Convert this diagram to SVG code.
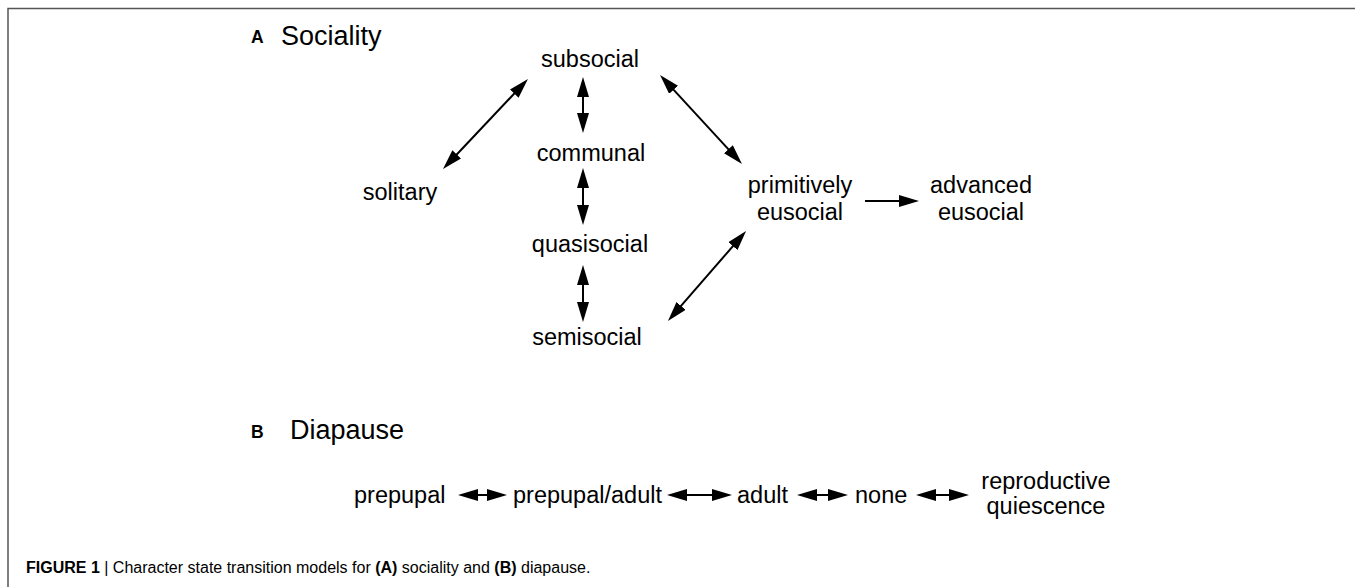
<svg xmlns="http://www.w3.org/2000/svg" width="1355" height="587" viewBox="0 0 1355 587">
<defs>
<style>
text{font-family:"Liberation Sans",Arial,sans-serif;fill:#000}
.lbl{font-size:23.5px;text-anchor:middle}
.row{font-size:23.5px}
.head{font-size:27px}
.tag{font-size:17.5px;font-weight:bold}
.cap{font-size:16px}
.con line{stroke:#000;stroke-width:2}
</style>
<marker id="ah" markerUnits="userSpaceOnUse" markerWidth="20" markerHeight="12" refX="10" refY="6" orient="auto-start-reverse">
<path d="M0,0 L20,6 L0,12 Z" fill="#000"/>
</marker>
</defs>
<rect width="1355" height="587" fill="#fff"/>
<path d="M8,587 V8.5 H1355" fill="none" stroke="#555" stroke-width="1.5"/>

<g id="titleA"><text class="tag" x="251" y="43">A</text><text class="head" x="281" y="45">Sociality</text></g>
<g id="subsocial"><text class="lbl" x="590" y="67">subsocial</text></g>
<g id="solitary"><text class="lbl" x="400" y="200">solitary</text></g>
<g id="communal"><text class="lbl" x="591" y="161">communal</text></g>
<g id="quasisocial"><text class="lbl" x="590" y="252">quasisocial</text></g>
<g id="semisocial"><text class="lbl" x="587" y="345">semisocial</text></g>
<g id="primitively"><text class="lbl" x="800" y="193">primitively</text><text class="lbl" x="800" y="220">eusocial</text></g>
<g id="advanced"><text class="lbl" x="981" y="193">advanced</text><text class="lbl" x="981" y="220">eusocial</text></g>

<g id="titleB"><text class="tag" x="251" y="438">B</text><text class="head" x="290" y="439">Diapause</text></g>
<g id="prepupal"><text class="row" x="354" y="503">prepupal</text></g>
<g id="prepupal-adult"><text class="row" x="513" y="503">prepupal/adult</text></g>
<g id="adult"><text class="row" x="737" y="503">adult</text></g>
<g id="none"><text class="row" x="855" y="503">none</text></g>
<g id="reproductive"><text class="lbl" x="1046" y="489">reproductive</text><text class="lbl" x="1046" y="514">quiescence</text></g>

<g id="connectors" class="con">
<line x1="449.9" y1="161.7" x2="521.1" y2="86.3" marker-start="url(#ah)" marker-end="url(#ah)"/>
<line x1="583" y1="87" x2="583" y2="123" marker-start="url(#ah)" marker-end="url(#ah)"/>
<line x1="583" y1="178" x2="583" y2="215" marker-start="url(#ah)" marker-end="url(#ah)"/>
<line x1="583" y1="275" x2="583" y2="312" marker-start="url(#ah)" marker-end="url(#ah)"/>
<line x1="666.8" y1="82.4" x2="735.2" y2="156.6" marker-start="url(#ah)" marker-end="url(#ah)"/>
<line x1="674.5" y1="313.4" x2="739.5" y2="238.6" marker-start="url(#ah)" marker-end="url(#ah)"/>
<line x1="865" y1="201" x2="909" y2="201" marker-end="url(#ah)"/>
<line x1="468" y1="495" x2="497" y2="495" marker-start="url(#ah)" marker-end="url(#ah)"/>
<line x1="677" y1="495" x2="722" y2="495" marker-start="url(#ah)" marker-end="url(#ah)"/>
<line x1="807" y1="495" x2="838" y2="495" marker-start="url(#ah)" marker-end="url(#ah)"/>
<line x1="926" y1="495" x2="959" y2="495" marker-end="url(#ah)" marker-start="url(#ah)"/>
</g>

<g id="caption"><text class="cap" x="26" y="573"><tspan font-weight="bold">FIGURE 1</tspan> | Character state transition models for <tspan font-weight="bold">(A)</tspan> sociality and <tspan font-weight="bold">(B)</tspan> diapause.</text></g>
</svg>
